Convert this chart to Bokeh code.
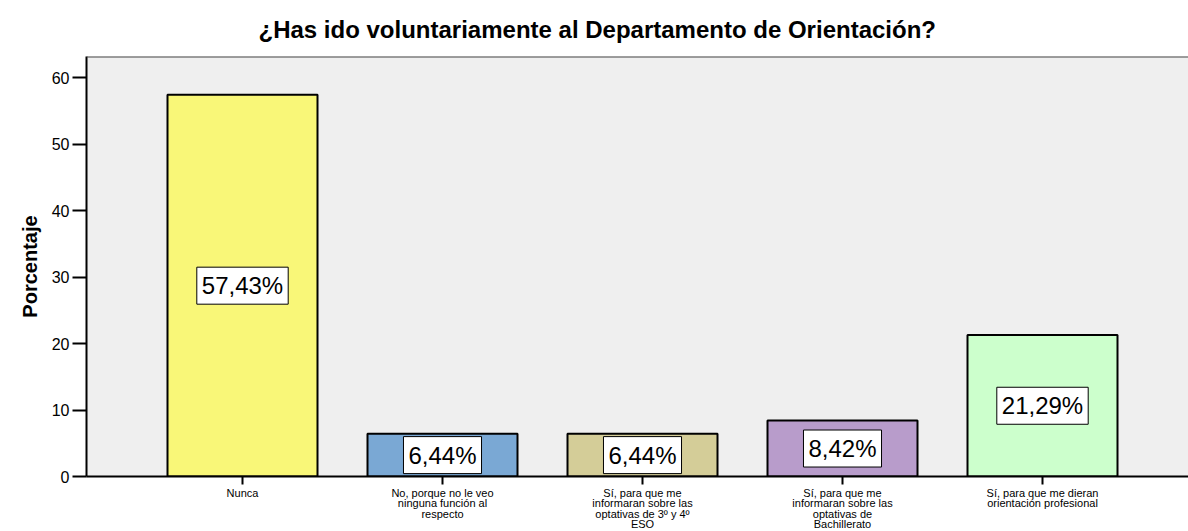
from bokeh.plotting import figure
from bokeh.models import Label, FixedTicker, Range1d, Span
from bokeh.embed import file_html
from bokeh.resources import INLINE

title_text = "¿Has ido voluntariamente al Departamento de Orientación?"
y_label = "Porcentaje"
categories = [
    "Nunca",
    "No, porque no le veo\nninguna función al\nrespecto",
    "Sí, para que me\ninformaran sobre las\noptativas de 3º y 4º\nESO",
    "Sí, para que me\ninformaran sobre las\noptativas de\nBachillerato",
    "Sí, para que me dieran\norientación profesional",
]
values = [57.43, 6.44, 6.44, 8.42, 21.29]
colors = ["#F9F778", "#7AA8D4", "#D4CD98", "#B89CCB", "#CCFFCC"]
y_ticks = [0, 10, 20, 30, 40, 50, 60]

positions = list(range(len(categories)))
value_text = [f"{v:.2f}".replace(".", ",") + "%" for v in values]

FONT = "Liberation Sans"

p = figure(
    frame_width=1102, frame_height=420,
    x_range=Range1d(-0.78, 4.73), y_range=Range1d(0, 63.2),
    min_border_left=86, min_border_top=55, min_border_bottom=0, min_border_right=0,
    background_fill_color="#efefef", border_fill_color="white",
    outline_line_color=None, toolbar_location=None, output_backend="svg",
)
p.xgrid.visible = False
p.ygrid.visible = False

p.title.text = title_text
p.title.align = "left"
p.title.offset = 172
p.title.standoff = 27
p.title.text_font = FONT
p.title.text_font_style = "bold"
p.title.text_font_size = "24px"
p.title.text_color = "black"

p.vbar(x=positions, top=values, width=0.75, fill_color=colors,
       line_color="black", line_width=2)

# top frame line
p.add_layout(Span(location=63.2, dimension="width", line_color="#444444", line_width=2))

# x axis
p.xaxis.ticker = FixedTicker(ticks=positions)
p.xaxis.major_label_overrides = {i: c for i, c in zip(positions, categories)}
p.xaxis.major_label_text_font = FONT
p.xaxis.major_label_text_font_size = "11px"
p.xaxis.major_label_text_line_height = 0.88
p.xaxis.major_label_text_color = "black"
p.xaxis.major_label_standoff = 2
p.xaxis.major_tick_in = 0
p.xaxis.major_tick_out = 8
p.xaxis.minor_tick_line_color = None
p.xaxis.axis_line_color = "black"
p.xaxis.axis_line_width = 2
p.xaxis.major_tick_line_width = 2

# y axis
p.yaxis.ticker = FixedTicker(ticks=y_ticks)
p.yaxis.major_tick_in = 0
p.yaxis.major_tick_out = 14
p.yaxis.major_tick_line_width = 2
p.yaxis.minor_tick_line_color = None
p.yaxis.axis_line_color = "black"
p.yaxis.axis_line_width = 2
p.yaxis.major_label_text_font = FONT
p.yaxis.major_label_text_font_size = "16px"
p.yaxis.major_label_text_color = "black"
p.yaxis.major_label_standoff = 3
p.yaxis.axis_label = y_label
p.yaxis.axis_label_text_font = FONT
p.yaxis.axis_label_text_font_style = "bold"
p.yaxis.axis_label_text_font_size = "20px"
p.yaxis.axis_label_text_color = "black"
p.yaxis.axis_label_standoff = 8

# value labels
for xpos, v, t in zip(positions, values, value_text):
    p.add_layout(Label(x=xpos, y=v / 2, text=t,
                       text_align="center", text_baseline="middle",
                       text_font=FONT, text_font_size="24px", text_color="black",
                       background_fill_color="white", border_line_color="black",
                       border_line_width=1, padding=5))

open("out.html", "w").write(file_html(p, INLINE))
